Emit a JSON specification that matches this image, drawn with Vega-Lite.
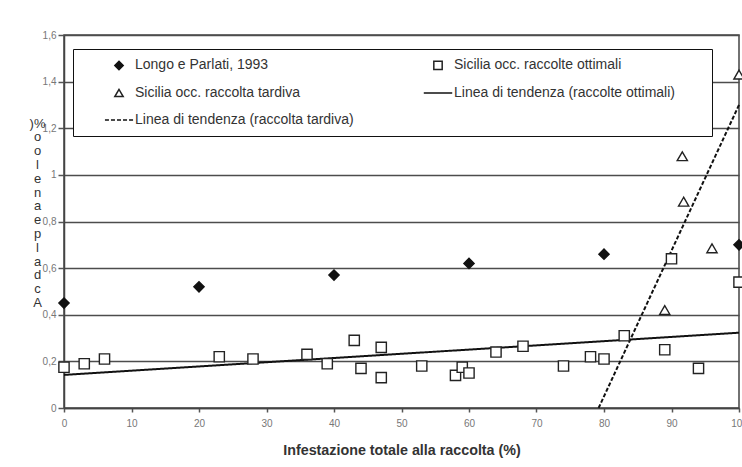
{
  "$schema": "https://vega.github.io/schema/vega-lite/v6.json",
  "width": 675,
  "height": 373,
  "autosize": {"type": "none"},
  "padding": {"left": 64, "top": 35, "right": 3, "bottom": 59},
  "background": "white",
  "config": {
    "view": {"stroke": "#444", "strokeWidth": 1.5},
    "font": "Liberation Sans"
  },
  "datasets": {
    "points": [
      {"series": "Longo e Parlati, 1993", "x": 0, "y": 0.45},
      {"series": "Longo e Parlati, 1993", "x": 20, "y": 0.52},
      {"series": "Longo e Parlati, 1993", "x": 40, "y": 0.57},
      {"series": "Longo e Parlati, 1993", "x": 60, "y": 0.62},
      {"series": "Longo e Parlati, 1993", "x": 80, "y": 0.66},
      {"series": "Longo e Parlati, 1993", "x": 100, "y": 0.70},
      {"series": "Sicilia occ. raccolte ottimali", "x": 0, "y": 0.175},
      {"series": "Sicilia occ. raccolte ottimali", "x": 3, "y": 0.19},
      {"series": "Sicilia occ. raccolte ottimali", "x": 6, "y": 0.21},
      {"series": "Sicilia occ. raccolte ottimali", "x": 23, "y": 0.22},
      {"series": "Sicilia occ. raccolte ottimali", "x": 28, "y": 0.21},
      {"series": "Sicilia occ. raccolte ottimali", "x": 36, "y": 0.23},
      {"series": "Sicilia occ. raccolte ottimali", "x": 39, "y": 0.19},
      {"series": "Sicilia occ. raccolte ottimali", "x": 43, "y": 0.29},
      {"series": "Sicilia occ. raccolte ottimali", "x": 44, "y": 0.17},
      {"series": "Sicilia occ. raccolte ottimali", "x": 47, "y": 0.26},
      {"series": "Sicilia occ. raccolte ottimali", "x": 47, "y": 0.13},
      {"series": "Sicilia occ. raccolte ottimali", "x": 53, "y": 0.18},
      {"series": "Sicilia occ. raccolte ottimali", "x": 58, "y": 0.14},
      {"series": "Sicilia occ. raccolte ottimali", "x": 59, "y": 0.175},
      {"series": "Sicilia occ. raccolte ottimali", "x": 60, "y": 0.15},
      {"series": "Sicilia occ. raccolte ottimali", "x": 64, "y": 0.24},
      {"series": "Sicilia occ. raccolte ottimali", "x": 68, "y": 0.265},
      {"series": "Sicilia occ. raccolte ottimali", "x": 74, "y": 0.18},
      {"series": "Sicilia occ. raccolte ottimali", "x": 78, "y": 0.22},
      {"series": "Sicilia occ. raccolte ottimali", "x": 80, "y": 0.21},
      {"series": "Sicilia occ. raccolte ottimali", "x": 83, "y": 0.31},
      {"series": "Sicilia occ. raccolte ottimali", "x": 89, "y": 0.25},
      {"series": "Sicilia occ. raccolte ottimali", "x": 90, "y": 0.64},
      {"series": "Sicilia occ. raccolte ottimali", "x": 94, "y": 0.17},
      {"series": "Sicilia occ. raccolte ottimali", "x": 100, "y": 0.54},
      {"series": "Sicilia occ. raccolta tardiva", "x": 89, "y": 0.42},
      {"series": "Sicilia occ. raccolta tardiva", "x": 91.6, "y": 1.08},
      {"series": "Sicilia occ. raccolta tardiva", "x": 91.8, "y": 0.885},
      {"series": "Sicilia occ. raccolta tardiva", "x": 96, "y": 0.685},
      {"series": "Sicilia occ. raccolta tardiva", "x": 100, "y": 1.43}
    ],
    "trends": [
      {"series": "Linea di tendenza (raccolte ottimali)", "x": 0, "y": 0.142},
      {"series": "Linea di tendenza (raccolte ottimali)", "x": 100, "y": 0.323},
      {"series": "Linea di tendenza (raccolta tardiva)", "x": 79.2, "y": 0},
      {"series": "Linea di tendenza (raccolta tardiva)", "x": 100, "y": 1.3}
    ]
  },
  "encoding": {
    "x": {
      "field": "x",
      "type": "quantitative",
      "scale": {"domain": [0, 100], "nice": false, "zero": false},
      "axis": {
        "values": [0, 10, 20, 30, 40, 50, 60, 70, 80, 90, 100],
        "title": "Infestazione totale alla raccolta (%)",
        "titleFontSize": 14.3,
        "titleFontWeight": "bold",
        "titleColor": "#333",
        "titlePadding": 15,
        "labelFontSize": 10,
        "labelColor": "#777",
        "labelPadding": 6,
        "labelFlush": false,
        "tickColor": "#555",
        "tickSize": 4,
        "tickWidth": 1.5,
        "domainColor": "#444",
        "domainWidth": 1.5,
        "grid": false
      }
    },
    "y": {
      "field": "y",
      "type": "quantitative",
      "scale": {"domain": [0, 1.6], "nice": false},
      "axis": {
        "values": [0, 0.2, 0.4, 0.6, 0.8, 1, 1.2, 1.4, 1.6],
        "labelExpr": "replace(format(datum.value, '~g'), '.', ',')",
        "labelFontSize": 10,
        "labelColor": "#777",
        "labelPadding": 2,
        "labelFlush": false,
        "tickColor": "#555",
        "tickSize": 6,
        "tickWidth": 1.5,
        "domainColor": "#444",
        "domainWidth": 1.5,
        "grid": true,
        "gridColor": "#4d4d4d",
        "gridWidth": 1.6,
        "title": [")%", "o", "o", "l", "e", "n", "a", "e", "p", "l", "a", "d", "c", "A"],
        "titleAngle": 0,
        "titleX": -27,
        "titleY": 82,
        "titleAlign": "center",
        "titleBaseline": "top",
        "titleFontSize": 13,
        "titleLineHeight": 13.8,
        "titleFontWeight": "normal",
        "titleColor": "#333"
      }
    }
  },
  "layer": [
    {
      "data": {"name": "trends"},
      "mark": {"type": "line", "color": "#111", "strokeWidth": 2},
      "encoding": {
        "detail": {"field": "series", "type": "nominal"},
        "strokeDash": {
          "field": "series",
          "type": "nominal",
          "scale": {
            "domain": ["Linea di tendenza (raccolte ottimali)", "Linea di tendenza (raccolta tardiva)"],
            "range": [[1, 0], [4, 2]]
          },
          "legend": null
        }
      }
    },
    {
      "data": {"name": "points"},
      "mark": {"type": "point", "filled": true, "strokeWidth": 1.4, "size": 105, "opacity": 1},
      "encoding": {
        "shape": {
          "field": "series",
          "type": "nominal",
          "scale": {
            "domain": ["Longo e Parlati, 1993", "Sicilia occ. raccolta tardiva", "Linea di tendenza (raccolta tardiva)", "Sicilia occ. raccolte ottimali", "Linea di tendenza (raccolte ottimali)"],
            "range": ["diamond", "triangle-up", "M-3.36,0H-2.4M-1.92,0H-0.96M-0.48,0H0.48M0.96,0H1.92M2.4,0H3.36", "square", "M-3.4,0H3.4"]
          },
          "legend": {
            "orient": "none",
            "legendX": 9,
            "legendY": 14,
            "columns": 2,
            "title": " ",
            "titleOrient": "right",
            "titlePadding": 28,
            "padding": 9,
            "strokeColor": "#111",
            "fillColor": "white",
            "symbolSize": 70,
            "symbolStrokeWidth": 1.5,
            "symbolOffset": 30,
            "labelOffset": 9,
            "labelFontSize": 14,
            "labelColor": "#333",
            "labelFont": "Liberation Sans",
            "labelLimit": 400,
            "rowPadding": 13,
            "columnPadding": 47
          }
        },
        "fill": {
          "field": "series",
          "type": "nominal",
          "scale": {
            "domain": ["Longo e Parlati, 1993", "Sicilia occ. raccolta tardiva", "Linea di tendenza (raccolta tardiva)", "Sicilia occ. raccolte ottimali", "Linea di tendenza (raccolte ottimali)"],
            "range": ["#111", "#fff", "#fff", "#fff", "#fff"]
          }
        },
        "stroke": {
          "field": "series",
          "type": "nominal",
          "scale": {
            "domain": ["Longo e Parlati, 1993", "Sicilia occ. raccolta tardiva", "Linea di tendenza (raccolta tardiva)", "Sicilia occ. raccolte ottimali", "Linea di tendenza (raccolte ottimali)"],
            "range": ["#111", "#222", "#111", "#222", "#111"]
          }
        }
      }
    }
  ]
}
